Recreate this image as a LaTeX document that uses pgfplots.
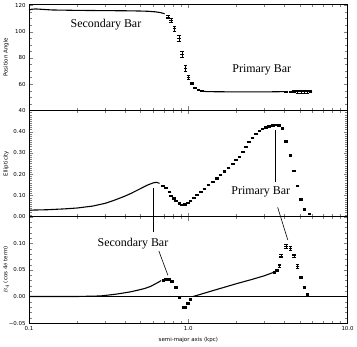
\documentclass[border=0pt]{standalone}
\usepackage{pgfplots}
\pgfplotsset{compat=1.18}
\usepackage{fontspec}
\setmainfont{Liberation Serif}
\newfontfamily\tickfont{DejaVu Sans}

\begin{document}
\begin{tikzpicture}
% ---- position angle
\begin{axis}[name=p1,
  scale only axis, width=319bp, height=106.5bp,
  xmode=log, xmin=0.1, xmax=10, xtick={0.1,1,10}, xticklabels={},
  minor xtick={0.2,0.3,0.4,0.5,0.6,0.7,0.8,0.9,2,3,4,5,6,7,8,9},
  tick align=inside, major tick length=4bp, minor tick length=2.5bp,
  axis line style={line width=0.6pt},
  tick label style={font=\tickfont\fontsize{5.5}{6}\selectfont},
  ylabel style={font=\tickfont\fontsize{5.5}{6}\selectfont},
  every axis y label/.append style={at={(axis description cs:-0.072,0.5)}, anchor=center},
  clip=false,
  ymin=40, ymax=121,
  ytick={40,60,80,100,120}, yticklabels={40,60,80,100,120},
  minor y tick num=3, ylabel={Position Angle}]
  \addplot[black, line width=1.1pt, mark=none] coordinates {(0.1,116.3) (0.103,117.0) (0.11,117.3) (0.12,117.0)
    (0.14,116.5) (0.2,116.2) (0.3,116.0) (0.4,115.9) (0.5,115.7) (0.56,115.5)
    (0.62,115.1) (0.67,114.5) (0.71,113.6)};
  \addplot[black, only marks, mark=-, mark size=1.8bp, line width=0.4pt,
    error bars/.cd, y dir=both, y explicit] table[y error=e] {
    x y e
    0.744 111.3 1.2
    0.78 108.7 1.5
    0.819 102.5 2
    0.872 95 2.5
    0.914 82.7 2.5
    0.96 72.2 2
    1.003 65.2 1.5
    1.052 60.7 1
    1.1 57.2 0.6
    1.16 55.6 0.4
    1.22 54.8 0.3
    4.1 54.3 0.4
    4.37 54.3 0.6
    4.59 54.5 0.8
    4.86 54.4 1
    5.09 54.3 1
    5.35 54.5 1.2
    5.6 54.3 1.2
    5.86 54.5 1
  };
  \addplot[black, line width=1.1pt, mark=none] coordinates {(1.22,54.8) (1.3,54.3) (2,54.1) (3,54.1) (4,54.3)};
  \node[font=\fontsize{12}{14}\selectfont] at (axis cs:0.304,105.7) {Secondary Bar};
  \node[font=\fontsize{12}{14}\selectfont] at (axis cs:2.89,71.2) {Primary Bar};
\end{axis}
% ---- ellipticity
\begin{axis}[name=p2, at={(p1.south west)}, anchor=north west,
  scale only axis, width=319bp, height=106.5bp,
  xmode=log, xmin=0.1, xmax=10, xtick={0.1,1,10}, xticklabels={},
  minor xtick={0.2,0.3,0.4,0.5,0.6,0.7,0.8,0.9,2,3,4,5,6,7,8,9},
  tick align=inside, major tick length=4bp, minor tick length=2.5bp,
  axis line style={line width=0.6pt},
  tick label style={font=\tickfont\fontsize{5.5}{6}\selectfont},
  ylabel style={font=\tickfont\fontsize{5.5}{6}\selectfont},
  every axis y label/.append style={at={(axis description cs:-0.072,0.5)}, anchor=center},
  clip=false,
  ymin=0, ymax=0.5,
  ytick={0,0.1,0.2,0.3,0.4,0.5}, yticklabels={0.00,0.10,0.20,0.30,0.40,},
  minor y tick num=9, ylabel={Ellipticity}]
  \addplot[black, line width=1.1pt, mark=none] coordinates {(0.1,0.031) (0.13,0.033) (0.167,0.037) (0.2,0.041)
    (0.25,0.05) (0.3,0.063) (0.344,0.078) (0.4,0.097) (0.437,0.11) (0.5,0.132)
    (0.55,0.148) (0.6,0.159) (0.63,0.162) (0.66,0.157)};
  \addplot[black, only marks, mark=-, mark size=1.8bp, line width=0.4pt,
    error bars/.cd, y dir=both, y explicit] table[y error=e] {
    x y e
    0.692 0.146 0.003
    0.726 0.135 0.003
    0.762 0.117 0.003
    0.78 0.100 0.003
    0.81 0.087 0.003
    0.839 0.075 0.003
    0.881 0.064 0.003
    0.91 0.057 0.003
    0.955 0.059 0.003
    0.993 0.067 0.003
    1.032 0.075 0.003
    1.083 0.091 0.003
    1.136 0.104 0.003
    1.203 0.119 0.003
    1.264 0.133 0.003
    1.339 0.149 0.003
    1.424 0.165 0.003
    1.509 0.181 0.003
    1.592 0.198 0.003
    1.687 0.214 0.003
    1.787 0.229 0.003
    1.901 0.248 0.003
    1.994 0.267 0.003
    2.094 0.284 0.003
    2.2 0.305 0.003
    2.3 0.330 0.003
    2.41 0.352 0.003
    2.53 0.372 0.003
    2.66 0.390 0.003
    2.8 0.405 0.003
    2.93 0.414 0.003
    3.07 0.421 0.003
    3.22 0.426 0.003
    3.39 0.430 0.003
    3.55 0.432 0.003
    3.70 0.431 0.003
    3.91 0.416 0.004
    4.10 0.354 0.004
    4.37 0.288 0.004
    4.59 0.217 0.004
    4.86 0.146 0.004
    5.09 0.083 0.004
    5.35 0.035 0.004
    5.75 0.014 0.003
  };
  \coordinate (s1) at (axis cs:0.599,0.135);
  \coordinate (q1) at (axis cs:3.54,0.407);
  \coordinate (q2) at (axis cs:3.54,0.162);
  \coordinate (q3) at (axis cs:3.64,0.044);
  \node[font=\fontsize{12}{14}\selectfont] at (axis cs:2.85,0.115) {Primary Bar};
\end{axis}
% ---- B4
\begin{axis}[name=p3, at={(p2.south west)}, anchor=north west,
  scale only axis, width=319bp, height=106.5bp,
  xmode=log, xmin=0.1, xmax=10, xtick={0.1,1,10}, xticklabels={0.1,1.0,10.0},
  minor xtick={0.2,0.3,0.4,0.5,0.6,0.7,0.8,0.9,2,3,4,5,6,7,8,9},
  tick align=inside, major tick length=4bp, minor tick length=2.5bp,
  axis line style={line width=0.6pt},
  tick label style={font=\tickfont\fontsize{5.5}{6}\selectfont},
  ylabel style={font=\tickfont\fontsize{5.5}{6}\selectfont},
  every axis y label/.append style={at={(axis description cs:-0.072,0.5)}, anchor=center},
  xlabel style={font=\tickfont\fontsize{5.5}{6}\selectfont},
  clip=false,
  ymin=-0.05, ymax=0.15,
  ytick={-0.05,0,0.05,0.1,0.15}, yticklabels={−0.05,0.00,0.05,0.10,},
  minor y tick num=4, ylabel={$B_4$ (cos 4$\theta$ term)},
  xlabel={semi-major axis (kpc)}]
  \addplot[black, line width=0.5pt, mark=none] coordinates {(0.1,0) (10,0)};
  \addplot[black, line width=1.1pt, mark=none] coordinates {(0.1,0) (0.2,0) (0.28,0.001) (0.344,0.004) (0.4,0.007)
    (0.437,0.009) (0.5,0.013) (0.531,0.015) (0.58,0.019) (0.614,0.023) (0.65,0.027)
    (0.675,0.030)};
  \addplot[black, only marks, mark=-, mark size=1.8bp, line width=0.4pt,
    error bars/.cd, y dir=both, y explicit] table[y error=e] {
    x y e
    0.70 0.031 0.002
    0.726 0.032 0.002
    0.762 0.033 0.002
    0.788 0.029 0.002
    0.839 0.017 0.002
    0.881 -0.001 0.002
    0.93 -0.020 0.002
    0.96 -0.020 0.002
    0.993 -0.012 0.002
    1.03 -0.005 0.002
    3.47 0.046 0.002
    3.6 0.050 0.002
    3.73 0.058 0.002
    3.82 0.076 0.003
    4.10 0.095 0.004
    4.37 0.091 0.004
    4.59 0.077 0.003
    4.86 0.057 0.003
    5.09 0.036 0.002
    5.35 0.017 0.002
    5.61 0.004 0.002
  };
  \addplot[black, line width=1.1pt, mark=none] coordinates {(1.07,0.0) (1.1,0.001) (1.5,0.013) (2.0,0.024)
    (2.5,0.032) (3.0,0.039) (3.4,0.045)};
  \coordinate (s2) at (axis cs:0.599,0.122);
  \coordinate (s3) at (axis cs:0.653,0.0856);
  \coordinate (s4) at (axis cs:0.744,0.040);
  \coordinate (q4) at (axis cs:4.21,0.1065);
  \node[font=\fontsize{12}{14}\selectfont] at (axis cs:0.449,0.0994) {Secondary Bar};
\end{axis}
\draw[black, line width=0.6pt] (s1) -- (s2);
\draw[black, line width=0.6pt] (s3) -- (s4);
\draw[black, line width=0.6pt] (q1) -- (q2);
\draw[black, line width=0.6pt] (q3) -- (q4);
\end{tikzpicture}
\end{document}
